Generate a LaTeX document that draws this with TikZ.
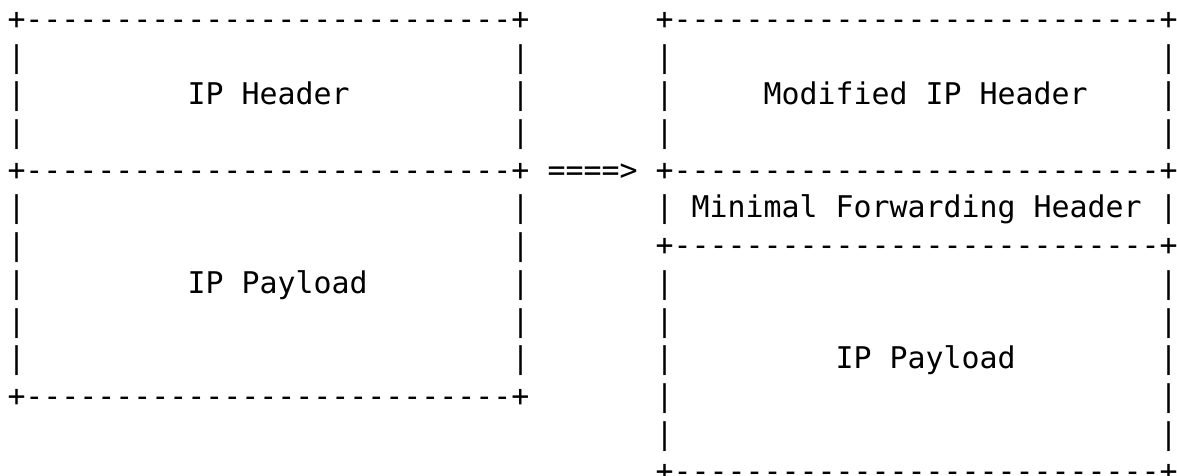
\documentclass[tikz,border=0pt]{standalone}
\usepackage{fontspec}
\setmonofont{DejaVu Sans Mono}
\begin{document}
\begin{tikzpicture}[x=1pt,y=-1pt,
  asc/.style={anchor=base west,inner sep=0pt,outer sep=0pt,
    font=\ttfamily\fontsize{29.9}{36}\selectfont,text=black}]
\useasboundingbox (0,0) rectangle (1177,476);
% column c left edge: 7.5+18*c ; row r baseline: 29.4+37.7*(r-1)
% ---------- left box ----------
\node[asc] (L1)  at ({7.5+18*0},{29.4+37.7*0})  {+---------------------------+};
\node[asc] (L2a) at ({7.5+18*0},{29.4+37.7*1})  {|};
\node[asc] (L2b) at ({7.5+18*28},{29.4+37.7*1}) {|};
\node[asc] (L3a) at ({7.5+18*0},{29.4+37.7*2})  {|};
\node[asc] (L3t) at ({7.5+18*10},{29.4+37.7*2}) {IP Header};
\node[asc] (L3b) at ({7.5+18*28},{29.4+37.7*2}) {|};
\node[asc] (L4a) at ({7.5+18*0},{29.4+37.7*3})  {|};
\node[asc] (L4b) at ({7.5+18*28},{29.4+37.7*3}) {|};
\node[asc] (L5)  at ({7.5+18*0},{29.4+37.7*4})  {+---------------------------+};
\node[asc] (L6a) at ({7.5+18*0},{29.4+37.7*5})  {|};
\node[asc] (L6b) at ({7.5+18*28},{29.4+37.7*5}) {|};
\node[asc] (L7a) at ({7.5+18*0},{29.4+37.7*6})  {|};
\node[asc] (L7b) at ({7.5+18*28},{29.4+37.7*6}) {|};
\node[asc] (L8a) at ({7.5+18*0},{29.4+37.7*7})  {|};
\node[asc] (L8t) at ({7.5+18*10},{29.4+37.7*7}) {IP Payload};
\node[asc] (L8b) at ({7.5+18*28},{29.4+37.7*7}) {|};
\node[asc] (L9a) at ({7.5+18*0},{29.4+37.7*8})  {|};
\node[asc] (L9b) at ({7.5+18*28},{29.4+37.7*8}) {|};
\node[asc] (L10a) at ({7.5+18*0},{29.4+37.7*9})  {|};
\node[asc] (L10b) at ({7.5+18*28},{29.4+37.7*9}) {|};
\node[asc] (L11) at ({7.5+18*0},{29.4+37.7*10}) {+---------------------------+};
% ---------- arrow ----------
\node[asc] (arrow) at ({7.5+18*30},{29.4+37.7*4}) {====>};
% ---------- right box ----------
\node[asc] (R1)  at ({7.5+18*36},{29.4+37.7*0})  {+---------------------------+};
\node[asc] (R2a) at ({7.5+18*36},{29.4+37.7*1})  {|};
\node[asc] (R2b) at ({7.5+18*64},{29.4+37.7*1})  {|};
\node[asc] (R3a) at ({7.5+18*36},{29.4+37.7*2})  {|};
\node[asc] (R3t) at ({7.5+18*42},{29.4+37.7*2})  {Modified IP Header};
\node[asc] (R3b) at ({7.5+18*64},{29.4+37.7*2})  {|};
\node[asc] (R4a) at ({7.5+18*36},{29.4+37.7*3})  {|};
\node[asc] (R4b) at ({7.5+18*64},{29.4+37.7*3})  {|};
\node[asc] (R5)  at ({7.5+18*36},{29.4+37.7*4})  {+---------------------------+};
\node[asc] (R6a) at ({7.5+18*36},{29.4+37.7*5})  {|};
\node[asc] (R6t) at ({7.5+18*38},{29.4+37.7*5})  {Minimal Forwarding Header};
\node[asc] (R6b) at ({7.5+18*64},{29.4+37.7*5})  {|};
\node[asc] (R7)  at ({7.5+18*36},{29.4+37.7*6})  {+---------------------------+};
\node[asc] (R8a) at ({7.5+18*36},{29.4+37.7*7})  {|};
\node[asc] (R8b) at ({7.5+18*64},{29.4+37.7*7})  {|};
\node[asc] (R9a) at ({7.5+18*36},{29.4+37.7*8})  {|};
\node[asc] (R9b) at ({7.5+18*64},{29.4+37.7*8})  {|};
\node[asc] (R10a) at ({7.5+18*36},{29.4+37.7*9}) {|};
\node[asc] (R10t) at ({7.5+18*46},{29.4+37.7*9}) {IP Payload};
\node[asc] (R10b) at ({7.5+18*64},{29.4+37.7*9}) {|};
\node[asc] (R11a) at ({7.5+18*36},{29.4+37.7*10}) {|};
\node[asc] (R11b) at ({7.5+18*64},{29.4+37.7*10}) {|};
\node[asc] (R12a) at ({7.5+18*36},{29.4+37.7*11}) {|};
\node[asc] (R12b) at ({7.5+18*64},{29.4+37.7*11}) {|};
\node[asc] (R13) at ({7.5+18*36},{29.4+37.7*12}) {+---------------------------+};
\end{tikzpicture}
\end{document}
